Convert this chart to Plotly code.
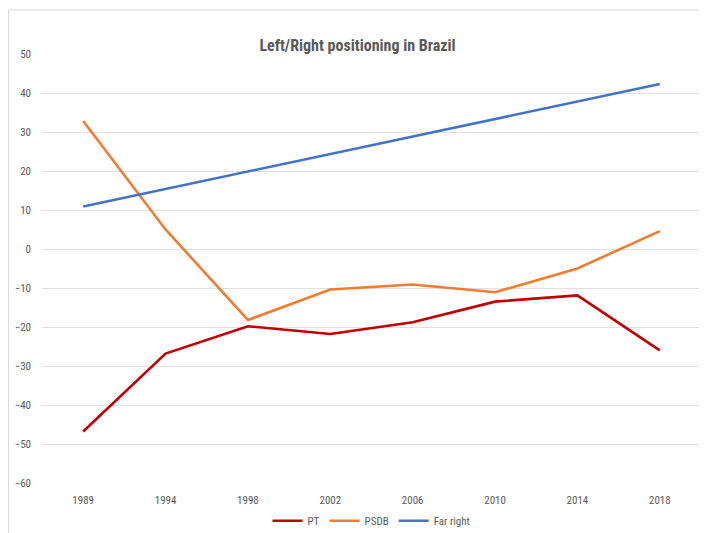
import plotly.graph_objects as go

years = ["1989", "1994", "1998", "2002", "2006", "2010", "2014", "2018"]
pt = [-46.8, -26.8, -19.8, -21.8, -18.8, -13.5, -11.9, -26.0]
psdb = [32.8, 5.0, -18.2, -10.4, -9.1, -11.1, -5.0, 4.6]
far_right = [10.9, 15.4, 19.9, 24.4, 28.9, 33.3, 37.8, 42.3]

series = [("PT", pt, "#C00000"), ("PSDB", psdb, "#ED7D31"), ("Far right", far_right, "#4472C4")]

fig = go.Figure()
for name, vals, color in series:
    fig.add_trace(go.Scatter(x=years, y=vals, name=name, mode="lines",
                             line=dict(color=color, width=2.6)))

font_fam = "Liberation Sans Narrow, Roboto Condensed, Liberation Sans, sans-serif"
# page body has an 8px margin, so the figure is 8px smaller and shifted
fig.update_layout(
    width=699, height=525,
    margin=dict(l=34, r=6, t=46, b=50, autoexpand=False),
    paper_bgcolor="white", plot_bgcolor="white",
    title=dict(text="<b>Left/Right positioning in Brazil</b>", x=0.5, xanchor="center",
               y=1 - 37 / 525, yanchor="middle",
               font=dict(family=font_fam, size=16, color="#595959")),
    showlegend=True,
    legend=dict(orientation="h", x=0.5, xanchor="center", y=-0.088, yanchor="middle",
                font=dict(family=font_fam, size=11, color="#595959"), itemwidth=30),
    font=dict(family=font_fam, color="#595959"),
)
fig.update_xaxes(type="category", range=[-0.5, 7.5], showgrid=False, zeroline=False,
                 showline=False, ticks="", tickfont=dict(size=11, color="#595959"),
                 ticklabelstandoff=9)
fig.update_yaxes(range=[-60, 50], dtick=10, tick0=0, showgrid=True, gridcolor="#E0E0E0",
                 gridwidth=1, zeroline=False, showline=False, ticks="",
                 tickfont=dict(size=11, color="#595959"), ticklabelstandoff=10)
fig.add_shape(type="rect", xref="paper", yref="paper",
              x0=-0.0508, x1=1.03, y0=-0.2, y1=1.1026,
              line=dict(color="#D9D9D9", width=1), fillcolor="rgba(0,0,0,0)", layer="below")
fig.write_html("out.html")
